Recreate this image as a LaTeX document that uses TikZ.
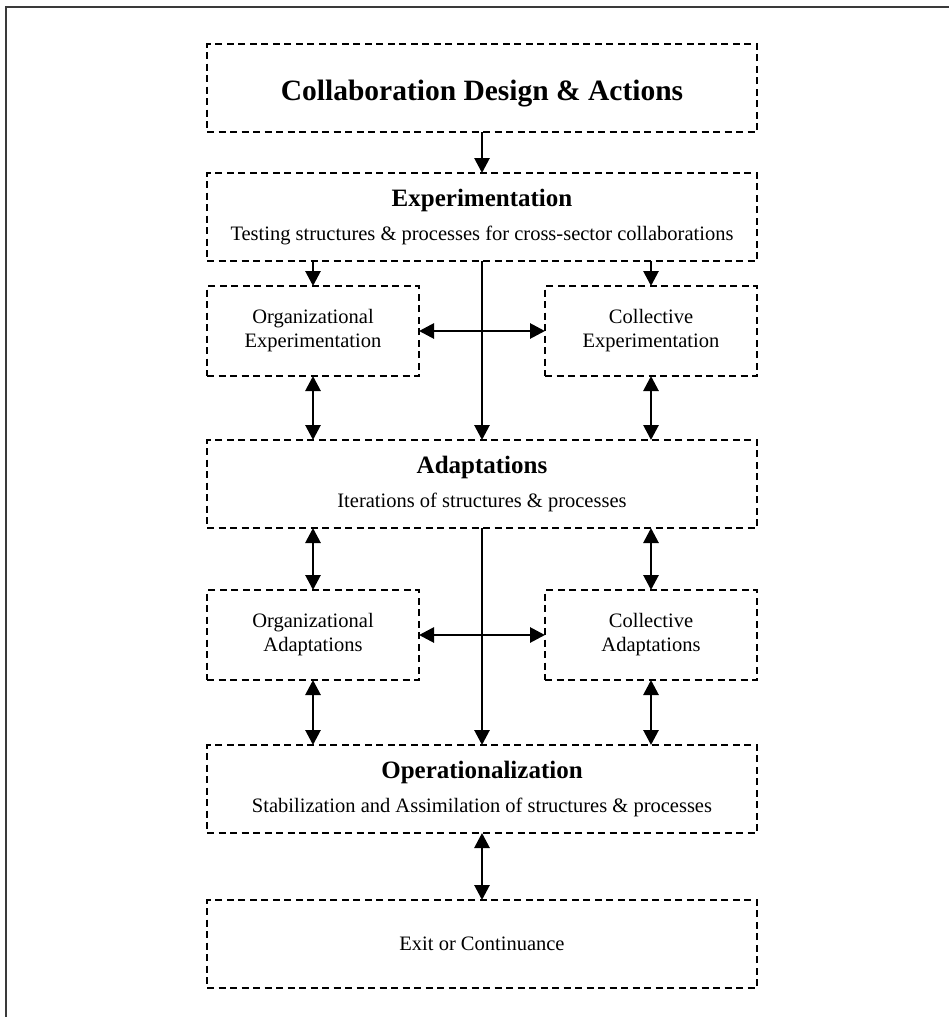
\documentclass[tikz,border=0pt]{standalone}
\usepackage{fontspec}
\setmainfont{Liberation Serif}
\usetikzlibrary{arrows.meta,positioning}
\definecolor{cframe}{HTML}{3A3A3A}
\newcommand{\titlefnt}{\fontsize{29.5}{34}\selectfont\bfseries}
\newcommand{\headfnt}{\fontsize{25}{34}\selectfont\bfseries}
\tikzset{
  fbox/.style={draw, dash pattern=on 7pt off 4.5pt, line width=2.8pt,
               align=center, inner sep=0pt, outer sep=0pt},
  nwide/.style={fbox, minimum width=550pt, minimum height=88pt,
                font=\fontsize{20.5}{34}\selectfont},
  nsmall/.style={fbox, minimum width=212pt, minimum height=90pt,
                 font=\fontsize{20.5}{24}\selectfont},
  flow/.style={-{Triangle[length=15pt, width=15pt]}, line width=2.8pt},
  flowb/.style={{Triangle[length=15pt, width=15pt]}-{Triangle[length=15pt, width=15pt]}, line width=2.8pt},
  frame/.style={draw=cframe, line width=2pt},
}
\begin{document}
\begin{tikzpicture}[x=1pt, y=-1pt]
  \useasboundingbox (0,0) rectangle (949,1017);
  \draw[frame] (6,1017) |- (949,7);
  % main column
  \node[nwide, font=\titlefnt, text height=30pt, text depth=6pt] (design) at (482,88) {Collaboration Design \& Actions};
  \node[nwide, below=41pt of design] (exper) {{\headfnt Experimentation}\\Testing structures \& processes for cross-sector collaborations};
  \node[nwide, below=179pt of exper] (adapt) {{\headfnt Adaptations}\\Iterations of structures \& processes};
  \node[nwide, below=217pt of adapt] (oper) {{\headfnt Operationalization}\\Stabilization and Assimilation of structures \& processes};
  \node[nwide, below=67pt of oper] (exit) {Exit or Continuance};
  % side boxes
  \node[nsmall, below right=25pt and 0pt of exper.south west] (orgexp) {Organizational\\Experimentation};
  \node[nsmall, below left=25pt and 0pt of exper.south east] (colexp) {Collective\\Experimentation};
  \node[nsmall, below right=62pt and 0pt of adapt.south west] (orgad) {Organizational\\Adaptations};
  \node[nsmall, below left=62pt and 0pt of adapt.south east] (colad) {Collective\\Adaptations};
  % connectors
  \draw[flow] (design) -- (exper);
  \draw[flow] (orgexp.north |- exper.south) -- (orgexp);
  \draw[flow] (colexp.north |- exper.south) -- (colexp);
  \draw[flow] (exper) -- (adapt);
  \draw[flowb] (orgexp) -- (colexp);
  \draw[flowb] (orgexp) -- (orgexp.south |- adapt.north);
  \draw[flowb] (colexp) -- (colexp.south |- adapt.north);
  \draw[flowb] (orgad.north |- adapt.south) -- (orgad);
  \draw[flowb] (colad.north |- adapt.south) -- (colad);
  \draw[flow] (adapt) -- (oper);
  \draw[flowb] (orgad) -- (colad);
  \draw[flowb] (orgad) -- (orgad.south |- oper.north);
  \draw[flowb] (colad) -- (colad.south |- oper.north);
  \draw[flowb] (oper) -- (exit);
\end{tikzpicture}
\end{document}
